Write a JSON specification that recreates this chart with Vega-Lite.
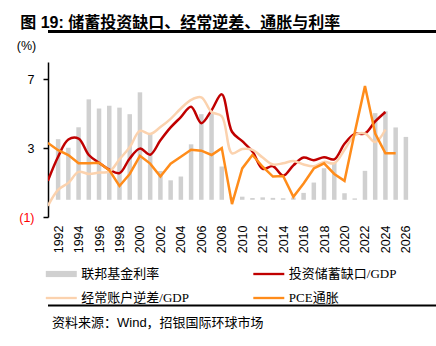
{
  "$schema": "https://vega.github.io/schema/vega-lite/v6.json",
  "padding": {"left": 16, "top": 15, "right": 5, "bottom": 5},
  "title": {"text": "图 19: 储蓄投资缺口、经常逆差、通胀与利率", "anchor": "start", "font": "Liberation Sans, Noto Sans CJK SC", "fontSize": 16, "fontWeight": "bold", "color": "black", "dx": 4, "offset": -1},
  "spacing": 6,
  "vconcat": [
    {"width": 407, "height": 3, "view": {"fill": "black", "stroke": null}, "data": {"values": []}, "mark": "point", "encoding": {}},
    {
      "spacing": 51.5,
      "vconcat": [
        {
          "width": 368,
          "height": 155,
          "data": {"values": [
            {"year": 1991, "fed": null, "gap": 1.1, "ca": -0.35, "pce": 3.3},
            {"year": 1992, "fed": 3.52, "gap": 2.5, "ca": 0.58, "pce": 2.88},
            {"year": 1993, "fed": 3.02, "gap": 3.5, "ca": 0.98, "pce": 2.6},
            {"year": 1994, "fed": 4.21, "gap": 3.55, "ca": 1.62, "pce": 2.12},
            {"year": 1995, "fed": 5.83, "gap": 2.6, "ca": 1.5, "pce": 2.12},
            {"year": 1996, "fed": 5.30, "gap": 2.15, "ca": 1.58, "pce": 2.15},
            {"year": 1997, "fed": 5.46, "gap": 1.75, "ca": 1.63, "pce": 1.72},
            {"year": 1998, "fed": 5.35, "gap": 1.55, "ca": 2.35, "pce": 0.8},
            {"year": 1999, "fed": 4.97, "gap": 2.4, "ca": 3.05, "pce": 1.5},
            {"year": 2000, "fed": 6.24, "gap": 2.97, "ca": 4.0, "pce": 2.55},
            {"year": 2001, "fed": 3.88, "gap": 2.62, "ca": 3.82, "pce": 2.1},
            {"year": 2002, "fed": 1.67, "gap": 3.45, "ca": 4.22, "pce": 1.35},
            {"year": 2003, "fed": 1.13, "gap": 4.2, "ca": 4.7, "pce": 2.1},
            {"year": 2004, "fed": 1.35, "gap": 4.8, "ca": 5.3, "pce": 2.5},
            {"year": 2005, "fed": 3.22, "gap": 5.4, "ca": 5.8, "pce": 2.9},
            {"year": 2006, "fed": 4.97, "gap": 4.45, "ca": 5.95, "pce": 2.85},
            {"year": 2007, "fed": 5.02, "gap": 5.2, "ca": 5.1, "pce": 2.6},
            {"year": 2008, "fed": 1.93, "gap": 6.12, "ca": 4.85, "pce": 3.0},
            {"year": 2009, "fed": 0.16, "gap": 3.95, "ca": 2.7, "pce": -0.25},
            {"year": 2010, "fed": 0.18, "gap": 3.4, "ca": 2.95, "pce": 1.82},
            {"year": 2011, "fed": 0.10, "gap": 2.8, "ca": 2.9, "pce": 2.6},
            {"year": 2012, "fed": 0.14, "gap": 1.8, "ca": 2.45, "pce": 1.92},
            {"year": 2013, "fed": 0.11, "gap": 1.95, "ca": 2.05, "pce": 1.35},
            {"year": 2014, "fed": 0.09, "gap": 1.4, "ca": 2.12, "pce": 1.38},
            {"year": 2015, "fed": 0.13, "gap": 2.0, "ca": 2.25, "pce": 0.17},
            {"year": 2016, "fed": 0.40, "gap": 2.45, "ca": 2.05, "pce": 0.95},
            {"year": 2017, "fed": 1.00, "gap": 2.3, "ca": 1.95, "pce": 1.82},
            {"year": 2018, "fed": 1.83, "gap": 2.47, "ca": 2.2, "pce": 2.12},
            {"year": 2019, "fed": 2.16, "gap": 2.35, "ca": 2.12, "pce": 1.5},
            {"year": 2020, "fed": 0.38, "gap": 3.25, "ca": 2.9, "pce": 1.1},
            {"year": 2021, "fed": 0.08, "gap": 3.82, "ca": 3.75, "pce": 3.9},
            {"year": 2022, "fed": 1.68, "gap": 3.85, "ca": 3.85, "pce": 6.6},
            {"year": 2023, "fed": 5.03, "gap": 4.55, "ca": 3.35, "pce": 3.85},
            {"year": 2024, "fed": 5.14, "gap": 5.1, "ca": 4.08, "pce": 2.7},
            {"year": 2025, "fed": 4.2, "gap": null, "ca": null, "pce": 2.7},
            {"year": 2026, "fed": 3.65, "gap": null, "ca": null, "pce": null}
          ]},
          "encoding": {
            "x": {"field": "year", "type": "quantitative",
                  "scale": {"domain": [1991.5, 2026.5], "nice": false, "zero": false},
                  "axis": {"values": [1992,1994,1996,1998,2000,2002,2004,2006,2008,2010,2012,2014,2016,2018,2020,2022,2024,2026],
                           "format": "d", "labelAngle": 270, "ticks": false, "tickSize": 0, "domain": false,
                           "labelPadding": 8, "labelFlush": false, "labelOverlap": false, "grid": false, "title": null}}
          },
          "layer": [
            {
              "mark": {"type": "bar", "size": 4.5, "color": "#D0D0D0"},
              "encoding": {
                "y": {"field": "fed", "type": "quantitative",
                      "scale": {"domain": [-1, 8], "nice": false, "zero": false},
                      "axis": {"values": [-1,0,1,2,3,4,5,6,7,8], "tickSize": 5, "labelPadding": 9, "labelFlush": false, "labelOverlap": false,
                               "domain": true, "ticks": true, "domainColor": "black", "tickColor": "black", "domainWidth": 1.5, "tickWidth": 1.5,
                               "labelExpr": "datum.value < 0 ? '(' + abs(datum.value) + ')' : datum.label",
                               "labelColor": {"condition": {"test": "datum.value < 0", "value": "#FF0000"}, "value": "black"},
                               "grid": false,
                               "title": "(%)", "titleAngle": 0, "titleX": -22, "titleY": -17, "titleAlign": "center", "titleBaseline": "middle", "titleFontSize": 12.5}},
                "color": {"datum": "联邦基金利率", "type": "nominal",
                          "scale": {"domain": ["联邦基金利率", "投资储蓄缺口/GDP", "经常账户逆差/GDP", "PCE通胀"],
                                    "range": ["#D0D0D0", "#C00000", "#FBD2AE", "#FF8C1A"]},
                          "legend": {"orient": "none", "legendX": 5.3, "legendY": 236, "columns": 2, "direction": "horizontal",
                                     "title": null, "symbolSize": 240, "symbolStrokeWidth": 0, "labelOffset": 12,
                                     "columnPadding": 63.5, "rowPadding": 9, "labelFontSize": 13,
                                     "labelFont": "Liberation Serif, Noto Sans CJK SC", "labelColor": "black", "labelLimit": 300, "padding": 0,
                                     "encode": {"symbols": {"update": {
                                       "shape": {"signal": "datum.value === '联邦基金利率' ? 'M-2,-0.4H2V0.4H-2Z' : 'M-2,-0.15H2V0.15H-2Z'"},
                                       "fill": {"signal": "datum.value === '联邦基金利率' ? '#D0D0D0' : datum.value === '投资储蓄缺口/GDP' ? '#C00000' : datum.value === '经常账户逆差/GDP' ? '#FBD2AE' : '#FF8C1A'"},
                                       "strokeWidth": {"value": 0},
                                       "opacity": {"value": 1}}}}}}
              }
            },
            {
              "mark": {"type": "line", "interpolate": "catmull-rom", "strokeWidth": 2.5, "clip": true},
              "encoding": {
                "y": {"field": "gap", "type": "quantitative"},
                "color": {"datum": "投资储蓄缺口/GDP", "type": "nominal"}
              }
            },
            {
              "mark": {"type": "line", "interpolate": "catmull-rom", "strokeWidth": 2.5, "clip": true},
              "encoding": {
                "y": {"field": "ca", "type": "quantitative"},
                "color": {"datum": "经常账户逆差/GDP", "type": "nominal"}
              }
            },
            {
              "mark": {"type": "line", "strokeWidth": 2.5, "clip": true},
              "encoding": {
                "y": {"field": "pce", "type": "quantitative"},
                "color": {"datum": "PCE通胀", "type": "nominal"}
              }
            }
          ]
        },
        {"width": 407, "height": 2, "view": {"fill": "black", "stroke": null}, "data": {"values": []}, "mark": "point", "encoding": {},
         "title": {"text": "资料来源：Wind，招银国际环球市场", "orient": "bottom", "anchor": "start", "fontSize": 13, "fontWeight": "normal", "font": "Liberation Sans, Noto Sans CJK SC", "color": "black", "dx": 4, "offset": 10}}
      ]
    }
  ],
  "config": {
    "view": {"stroke": null},
    "font": "Liberation Sans",
    "axis": {"labelFont": "Liberation Sans", "labelFontSize": 12.5, "labelColor": "black", "labelOverlap": false, "domainColor": "black", "tickColor": "black",
             "domainWidth": 1.5, "tickWidth": 1.5, "grid": false, "titleFont": "Liberation Sans", "titleFontWeight": "normal", "titleColor": "black"},
    "axisY": {"labelOverlap": false}
  }
}
